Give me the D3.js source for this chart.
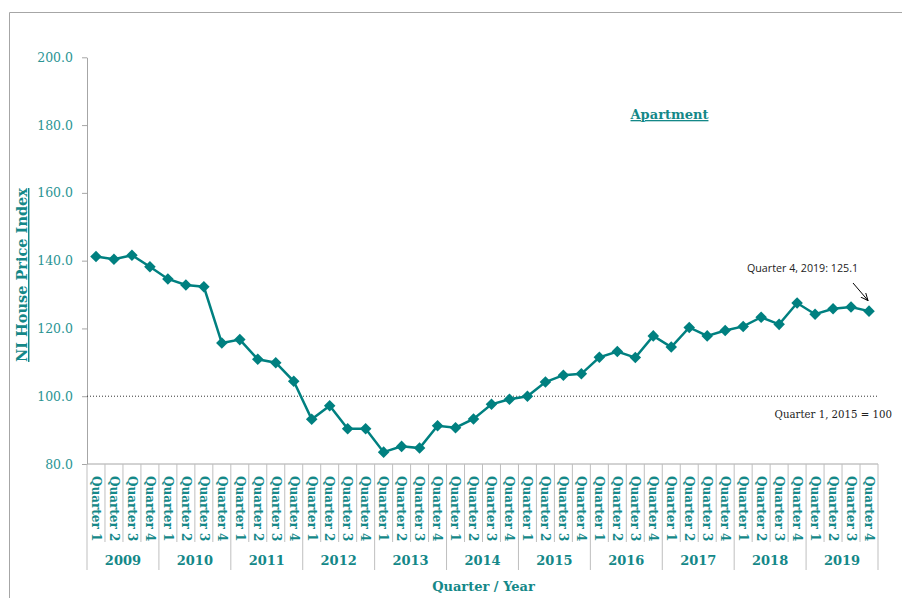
<!DOCTYPE html>
<html>
<head>
<meta charset="utf-8">
<script src="https://cdn.jsdelivr.net/npm/d3@7"></script>
<style>
  body { margin: 0; background: #fff; }
  svg { display: block; }
  .tick text { font-family: "DejaVu Serif", serif; font-size: 12.5px; fill: #2a9494; }
  .qLabel { font-family: "DejaVu Serif", serif; font-weight: bold; font-size: 12px; fill: #148888; }
  .yearLabel { font-family: "DejaVu Serif", serif; font-weight: bold; font-size: 13px; fill: #148888; }
  .axisTitle { font-family: "DejaVu Serif", serif; font-weight: bold; font-size: 13px; fill: #148888; }
  .note { font-size: 10.5px; fill: #222; }
</style>
</head>
<body>
<div class="chart"></div>
<script>
// years and quarters on the x axis
var years = ["2009", "2010", "2011", "2012", "2013", "2014", "2015", "2016", "2017", "2018", "2019"];
var quarters = ["Quarter 1", "Quarter 2", "Quarter 3", "Quarter 4"];

// apartment price index, one value per quarter from 2009 Q1 to 2019 Q4
var apartment = [
  141.2, 140.4, 141.6, 138.2,
  134.6, 132.8, 132.3, 115.7,
  116.7, 110.9, 109.9, 104.4,
  93.2, 97.2, 90.4, 90.4,
  83.5, 85.2, 84.7, 91.3,
  90.7, 93.3, 97.6, 99.1,
  100.0, 104.2, 106.2, 106.6,
  111.5, 113.2, 111.4, 117.8,
  114.5, 120.3, 117.8, 119.4,
  120.6, 123.3, 121.2, 127.5,
  124.2, 125.8, 126.3, 125.1
];

var yTicks = [80, 100, 120, 140, 160, 180, 200];
var baseValue = 100;

var width = 902, height = 598;
var margin = { top: 57.3, bottom: 464, left: 87, right: 878 };

var data = [];
years.forEach(function(y) {
  quarters.forEach(function(q) { data.push({ year: y, quarter: q, key: y + "-" + q }); });
});
data.forEach(function(d, i) { d.value = apartment[i]; });

var svg = d3.select(".chart").append("svg")
            .attr("width", width)
            .attr("height", height);

// outer frame (top and left edges show)
svg.append("path")
   .attr("d", "M9.5,598 V12.5 H902")
   .attr("fill", "none")
   .attr("stroke", "#a6a6a6")
   .attr("stroke-width", 1);

var scaleX = d3.scaleBand()
               .domain(data.map(function(d) { return d.key; }))
               .range([margin.left, margin.right])
               .padding(0);

var scaleY = d3.scaleLinear()
               .domain([80, 200])
               .range([margin.bottom, margin.top]);

var axisLeft = d3.axisLeft(scaleY)
                 .tickValues(yTicks)
                 .tickFormat(d3.format(".1f"))
                 .tickSizeInner(5)
                 .tickSizeOuter(0)
                 .tickPadding(9);

var gy = svg.append("g")
            .attr("transform", "translate(" + margin.left + ",0)")
            .call(axisLeft);
gy.select(".domain").attr("stroke", "#a6a6a6");
gy.selectAll(".tick line").attr("stroke", "#a6a6a6");

// x axis line
svg.append("line")
   .attr("x1", margin.left).attr("x2", margin.right)
   .attr("y1", margin.bottom).attr("y2", margin.bottom)
   .attr("stroke", "#a6a6a6");

// quarter dividers, longer ones between years
var bw = scaleX.bandwidth();
svg.selectAll(".qDiv")
   .data(data)
   .enter().append("line")
   .attr("class", "qDiv")
   .attr("x1", function(d) { return scaleX(d.key) + bw; })
   .attr("x2", function(d) { return scaleX(d.key) + bw; })
   .attr("y1", margin.bottom)
   .attr("y2", function(d, i) { return (i % 4 === 3) ? 570 : 542; })
   .attr("stroke", "#bfbfbf");

svg.append("line")
   .attr("x1", margin.left).attr("x2", margin.left)
   .attr("y1", margin.bottom).attr("y2", 570)
   .attr("stroke", "#bfbfbf");

// quarter labels, rotated
svg.selectAll(".qLabel")
   .data(data)
   .enter().append("text")
   .attr("class", "qLabel")
   .attr("transform", function(d) {
     return "translate(" + (scaleX(d.key) + bw / 2) + ",476) rotate(90)";
   })
   .attr("dy", "0.35em")
   .text(function(d) { return d.quarter; });

// year labels
svg.selectAll(".yearLabel")
   .data(years)
   .enter().append("text")
   .attr("class", "yearLabel")
   .attr("x", function(y) { return (scaleX(y + "-Quarter 1") + scaleX(y + "-Quarter 4") + bw) / 2; })
   .attr("y", 565)
   .attr("text-anchor", "middle")
   .text(function(y) { return y; });

// base line at 100
svg.append("line")
   .attr("x1", margin.left).attr("x2", margin.right)
   .attr("y1", scaleY(baseValue)).attr("y2", scaleY(baseValue))
   .attr("stroke", "#333")
   .attr("stroke-width", 1)
   .attr("stroke-dasharray", "1,2");

// the series
var line = d3.line()
             .x(function(d) { return scaleX(d.key) + bw / 2; })
             .y(function(d) { return scaleY(d.value); });

svg.append("path")
   .datum(data)
   .attr("d", line)
   .attr("fill", "none")
   .attr("stroke", "#008080")
   .attr("stroke-width", 2.5);

svg.selectAll(".marker")
   .data(data)
   .enter().append("path")
   .attr("class", "marker")
   .attr("d", d3.symbol().type(d3.symbolDiamond2).size(85))
   .attr("transform", function(d) {
     return "translate(" + (scaleX(d.key) + bw / 2) + "," + scaleY(d.value) + ")";
   })
   .attr("fill", "#008080");

// titles
svg.append("text")
   .attr("class", "axisTitle")
   .attr("transform", "translate(27,275) rotate(-90)")
   .attr("text-anchor", "middle")
   .style("font-size", "14.5px")
   .style("text-decoration", "underline")
   .text("NI House Price Index");

svg.append("text")
   .attr("class", "axisTitle")
   .attr("x", 483.5)
   .attr("y", 591)
   .attr("text-anchor", "middle")
   .text("Quarter / Year");

svg.append("text")
   .attr("class", "axisTitle")
   .attr("x", 669.5)
   .attr("y", 119)
   .attr("text-anchor", "middle")
   .style("text-decoration", "underline")
   .text("Apartment");

// notes
var last = data[data.length - 1];
svg.append("text")
   .attr("class", "note")
   .attr("x", 747)
   .attr("y", 272)
   .style("font-family", "'Open Sans', sans-serif")
   .style("font-size", "10.7px")
   .text(last.quarter + ", " + last.year + ": " + last.value.toFixed(1));

svg.append("defs").append("marker")
   .attr("id", "arrow")
   .attr("viewBox", "0 0 10 10")
   .attr("refX", 9).attr("refY", 5)
   .attr("markerWidth", 8).attr("markerHeight", 8)
   .attr("orient", "auto")
   .append("path")
   .attr("d", "M0,1 L9,5 L0,9")
   .attr("fill", "none")
   .attr("stroke", "#000")
   .attr("stroke-width", 1.2);

svg.append("line")
   .attr("x1", 853).attr("y1", 283)
   .attr("x2", 868).attr("y2", 300.5)
   .attr("stroke", "#000")
   .attr("stroke-width", 1)
   .attr("marker-end", "url(#arrow)");

svg.append("text")
   .attr("class", "note")
   .attr("x", 892)
   .attr("y", 418)
   .attr("text-anchor", "end")
   .style("font-family", "'DejaVu Serif', serif")
   .style("font-size", "10.2px")
   .text("Quarter 1, 2015 = 100");
</script>
</body>
</html>
